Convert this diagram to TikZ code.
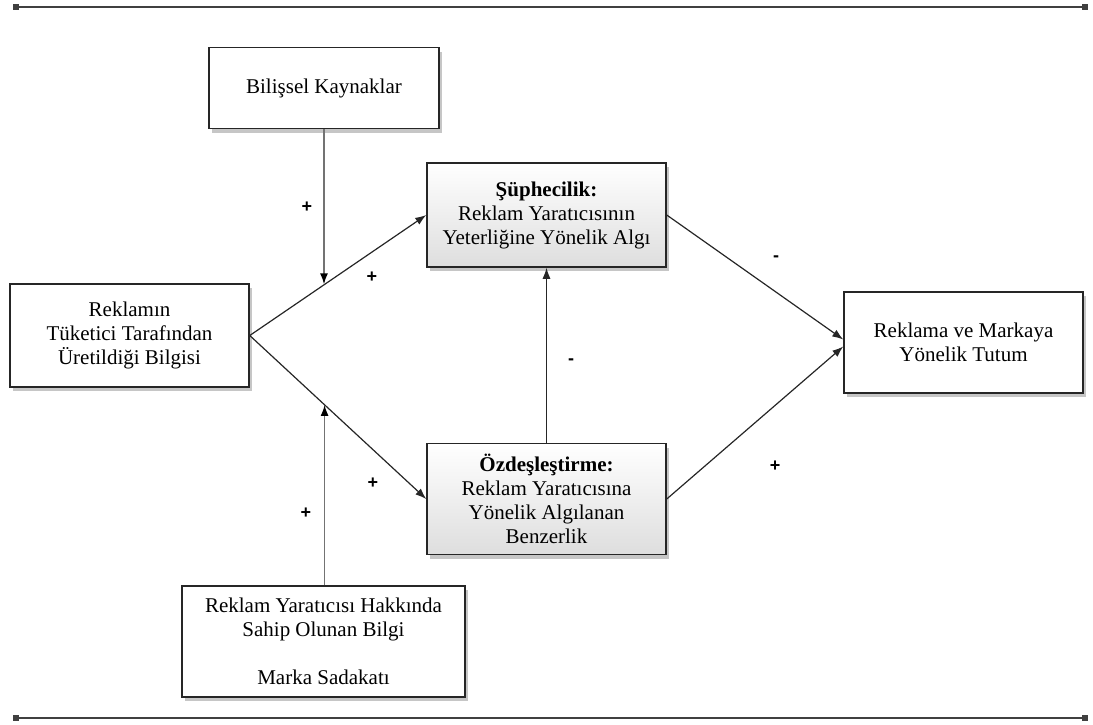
\documentclass[tikz,border=0pt]{standalone}
\usepackage{fontspec}
\setmainfont{Liberation Serif}
\setsansfont{Liberation Sans}
\usetikzlibrary{positioning, arrows.meta, calc, shadows}

\begin{document}
\begin{tikzpicture}[
  x=1pt, y=-1pt,
  box/.style={
    rectangle, draw=black!85, line width=1.5pt, fill=white,
    minimum width=239pt, font=\fontsize{21}{24}\selectfont,
    align=center, inner sep=4pt,
    drop shadow={shadow xshift=3pt, shadow yshift=-4pt, opacity=0.45}
  },
  keybox/.style={box, top color=white, bottom color=black!13},
  link/.style={-{Latex[length=11pt,width=8pt]}, line width=1.2pt, black!85},
  prop/.style={-{Latex[length=11pt,width=8pt,color=black]}, line width=1.7pt, black!55},
  sign/.style={font=\sffamily\bfseries\fontsize{18}{18}\selectfont},
  frameline/.style={{Square[length=6pt,width=6pt]}-{Square[length=6pt,width=6pt]},
    line width=1.2pt, black!75},
]
\useasboundingbox (0,0) rectangle (1093,724);

% frame lines
\coordinate (tl) at (13,7);
\coordinate (tr) at (1088,7);
\coordinate (bl) at (13,718);
\coordinate (br) at (1088,718);
\draw[frameline] (tl) -- (tr);
\draw[frameline] (bl) -- (br);

% Bilissel Kaynaklar
\node[box, minimum width=230pt, minimum height=81pt] (bil) at (324,88) {Bilişsel Kaynaklar};

% Reklamin bilgisi
\node[box, minimum height=103pt] (rek) at (129.5,335.5) {
  Reklamın\\
  Tüketici Tarafından\\
  Üretildiği Bilgisi
};

% Suphecilik
\node[keybox, minimum height=104pt] (sup) at (546.5,215) {
  \textbf{Şüphecilik:}\\
  Reklam Yaratıcısının\\
  Yeterliğine Yönelik Algı
};

% Ozdeslestirme
\node[keybox, minimum height=111pt, below=175pt of sup] (ozd) {
  \textbf{Özdeşleştirme:}\\
  Reklam Yaratıcısına\\
  Yönelik Algılanan\\
  Benzerlik
};

% Tutum
\node[box, minimum height=101pt] (tut) at (963.5,342.5) {
  Reklama ve Markaya\\
  Yönelik Tutum
};

% Reklam yaraticisi bilgisi
\node[box, minimum width=283pt, minimum height=111pt] (yar) at (323.5,641.5) {
  Reklam Yaratıcısı Hakkında\\
  Sahip Olunan Bilgi\\[24pt]
  Marka Sadakatı
};

% connectors
\coordinate (bilhit) at ($(rek.east)!0.424!(sup.west)$);
\coordinate (yarhit) at ($(rek.east)!0.424!(ozd.west)$);
\coordinate (tin1) at ($(tut.west)+(0,-3)$);
\coordinate (tin2) at ($(tut.west)+(0,4)$);

\draw[link] (rek.east) -- (sup.west);
\draw[link] (rek.east) -- (ozd.west);
\draw[link] (sup.east) -- (tin1);
\draw[link] (ozd.east) -- (tin2);
\draw[link] (ozd.north) -- (sup.south);
\draw[prop] (bil.south) -- (bil.south |- bilhit);
\draw[prop] (yar.north -| yarhit) -- (yarhit);

% signs
\node[sign] (s1) at (307,207) {+};
\node[sign] (s2) at (372,277) {+};
\node[sign] (s3) at (776,259) {-};
\node[sign] (s4) at (571,362) {-};
\node[sign] (s5) at (373,483) {+};
\node[sign] (s6) at (306,513) {+};
\node[sign] (s7) at (775,466) {+};

\end{tikzpicture}
\end{document}
